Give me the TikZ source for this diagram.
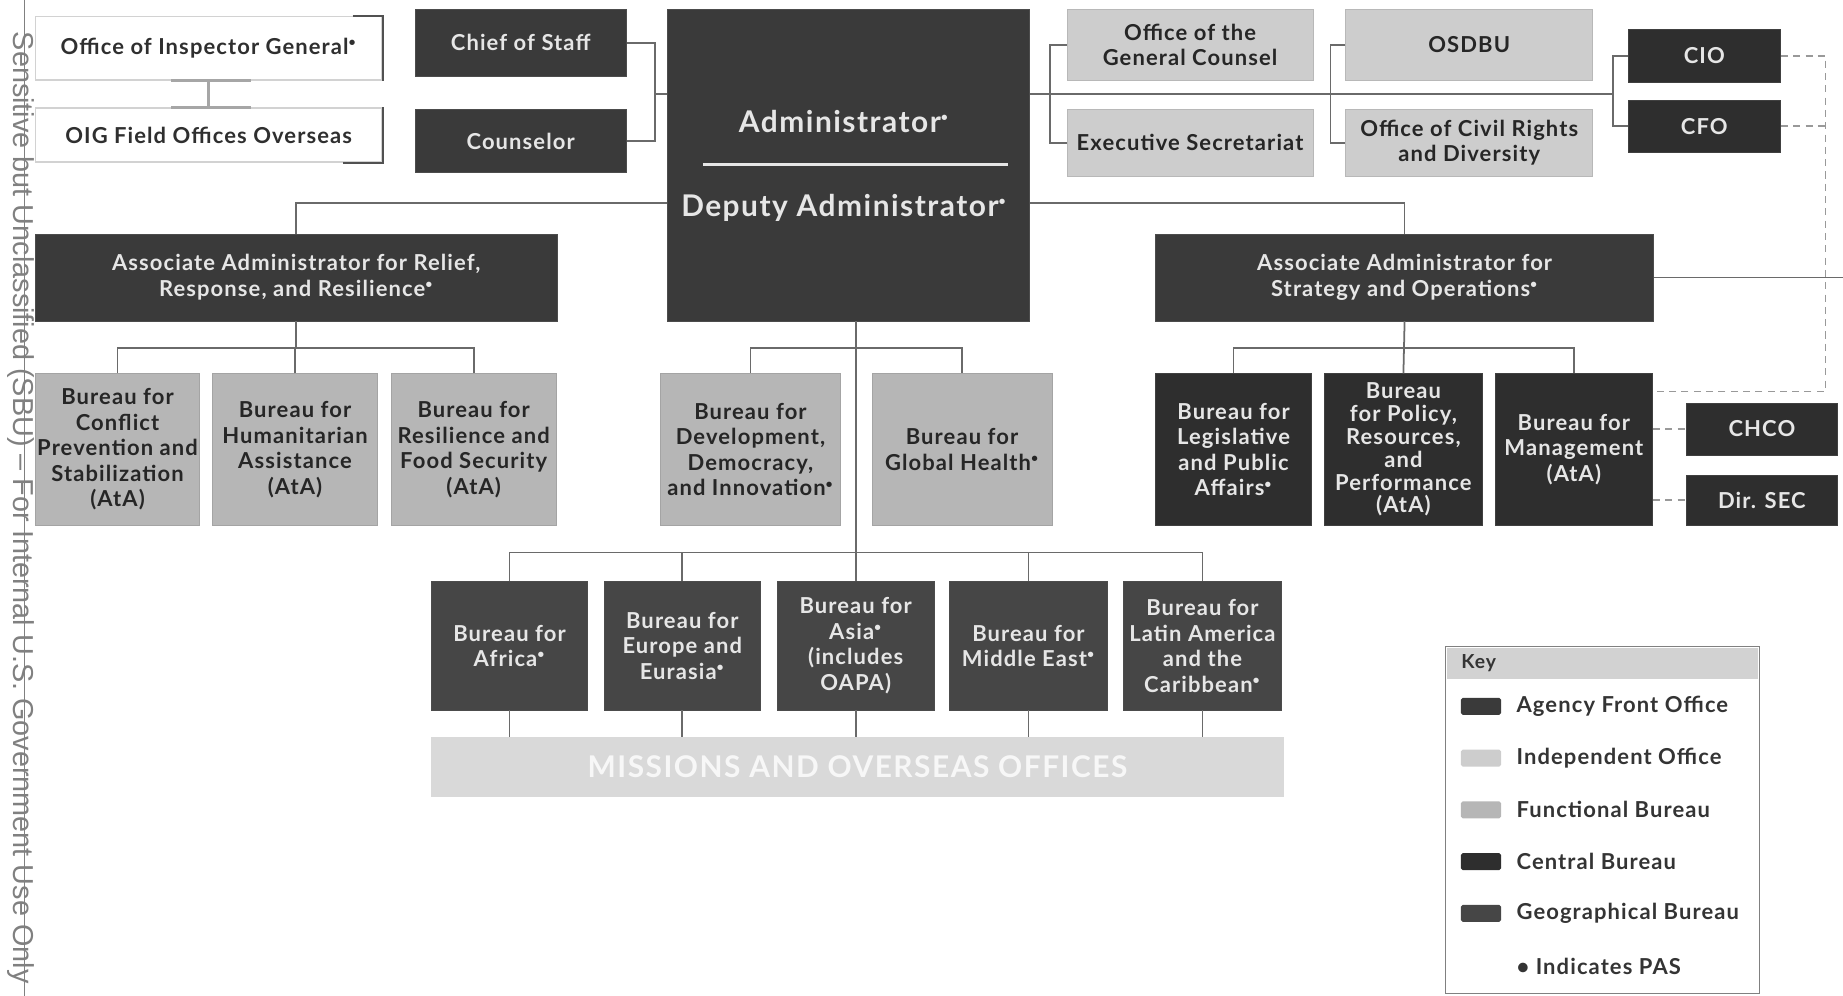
\documentclass[tikz,border=0pt]{standalone}
\usepackage{fontspec}
\setmainfont{Lato}[LetterSpace=5]
\setsansfont{Liberation Sans}

\definecolor{fronte}{HTML}{3A3A3A}
\definecolor{indip}{HTML}{CDCDCD}
\definecolor{funz}{HTML}{B6B6B6}
\definecolor{centro}{HTML}{2E2E2E}
\definecolor{geog}{HTML}{464646}
\definecolor{linea}{HTML}{6A6A6A}
\definecolor{chiaro}{HTML}{E6E6E6}
\definecolor{scuro}{HTML}{262626}

\newcommand{\pas}{\textsuperscript{\scriptsize•}}
\newcommand{\unita}{0.0235cm}
% casella da due angoli: nome, stile, x1, y1, x2, y2, testo
\newcommand{\casella}[7]{\node [#2, minimum width={(#5-#3)*\unita}, minimum height={(#6-#4)*\unita}] (#1) at ({(#3+#5)/2},{(#4+#6)/2}) {#7};}

\tikzset{
  ufficio/.style={inner sep=0pt, align=center, font=\bfseries\fontsize{12.5}{14.5}\selectfont},
  front/.style={ufficio, fill=fronte, draw=gray!60!black, text=chiaro},
  indipendente/.style={ufficio, fill=indip, draw=indip!90!black, text=scuro},
  funzionale/.style={ufficio, fill=funz, draw=funz!90!black, text=scuro},
  centrale/.style={ufficio, fill=centro, draw=gray!50!black, text=chiaro},
  geografico/.style={ufficio, fill=geog, draw=gray!60!black, text=chiaro},
  bianco/.style={ufficio, fill=white, draw=gray!35, line width=.8pt, text=scuro!90!gray},
  link/.style={draw=linea, line width=1pt},
  tratt/.style={draw=gray!80, line width=1pt, dashed, dash pattern=on 4pt off 3pt},
  campione/.style={minimum width=0.8cm, minimum height=0.34cm, inner sep=0pt, rounded corners=1pt},
  voce/.style={anchor=west, inner sep=0pt, font=\bfseries\fontsize{12.5}{14}\selectfont, text=scuro!85!gray}
}

\begin{document}
\begin{tikzpicture}[x=0.0235cm, y=-0.0235cm]
    \useasboundingbox (0,0) rectangle (1568,847);
    % Nota
    \draw [gray, line width=.6pt] (21,0) -- (21,847);
    \node [rotate=-90, text=gray, font=\sffamily\fontsize{16.4}{17}\selectfont] (nota) at (18,432) {Sensitive but Unclassified (SBU) -- For Internal U.S. Government Use Only};
    % Vertice
    \casella{oig}{bianco}{30}{14}{325}{68}{Office of Inspector General\pas}
    \casella{ofo}{bianco}{30}{92}{325}{138}{OIG Field Offices Overseas}
    \draw [scuro!80, line width=1pt] ([xshift=-0.6cm]oig.north east) -- (oig.north east) -- (oig.south east);
    \draw [scuro!80, line width=1pt] (ofo.north east) -- (ofo.south east) -- ([xshift=-0.8cm]ofo.south east);
    \casella{cos}{front}{353}{8}{533}{65}{Chief of Staff}
    \casella{cou}{front}{353}{93}{533}{147}{Counselor}
    \casella{adm}{front}{568}{8}{876}{273}{}
    \node [text=chiaro, font=\bfseries\fontsize{17}{20}\selectfont] (amm) at (718,103) {Administrator\pas};
    \node [text=chiaro, font=\bfseries\fontsize{17}{20}\selectfont] (vice) at (718,177) {Deputy Administrator\pas};
    \draw [chiaro, line width=1.5pt] (598,140) -- (858,140);
    \casella{gc}{indipendente}{908}{8}{1117}{68}{Office of the\\General Counsel}
    \casella{es}{indipendente}{908}{93}{1117}{150}{Executive Secretariat}
    \casella{osd}{indipendente}{1145}{8}{1355}{68}{OSDBU}
    \casella{ocr}{indipendente}{1145}{93}{1355}{150}{Office of Civil Rights\\and Diversity}
    \casella{cio}{centrale}{1385}{25}{1515}{70}{CIO}
    \casella{cfo}{centrale}{1385}{85}{1515}{130}{CFO}
    % Associati
    \casella{rrr}{front}{30}{199}{474}{273}{Associate Administrator for Relief,\\Response, and Resilience\pas}
    \casella{aso}{front}{983}{199}{1407}{273}{Associate Administrator for\\Strategy and Operations\pas}
    % Uffici
    \casella{cps}{funzionale}{30}{318}{170}{447}{Bureau for\\Conflict\\Prevention and\\Stabilization\\(AtA)}
    \casella{ha}{funzionale}{181}{318}{321}{447}{Bureau for\\Humanitarian\\Assistance\\(AtA)}
    \casella{rfs}{funzionale}{333}{318}{473}{447}{Bureau for\\Resilience and\\Food Security\\(AtA)}
    \casella{ddi}{funzionale}{562}{318}{715}{447}{Bureau for\\Development,\\Democracy,\\and Innovation\pas}
    \casella{gh}{funzionale}{742}{318}{895}{447}{Bureau for\\Global Health\pas}
    \casella{lpa}{centrale}{983}{318}{1116}{447}{Bureau for\\Legislative\\and Public\\Affairs\pas}
    \casella{ppr}{centrale, font=\bfseries\fontsize{12.5}{13}\selectfont}{1127}{318}{1261}{447}{Bureau\\for Policy,\\Resources,\\and\\Performance\\(AtA)}
    \casella{mgt}{centrale}{1272}{318}{1406}{447}{Bureau for\\Management\\(AtA)}
    \casella{chco}{centrale}{1435}{343}{1563}{387}{CHCO}
    \casella{dsec}{centrale}{1435}{404}{1563}{447}{Dir. SEC}
    % Regioni
    \casella{afr}{geografico}{367}{495}{500}{604}{Bureau for\\Africa\pas}
    \casella{eur}{geografico}{514}{495}{647}{604}{Bureau for\\Europe and\\Eurasia\pas}
    \casella{asia}{geografico}{661}{495}{795}{604}{Bureau for\\Asia\pas\\(includes\\OAPA)}
    \casella{me}{geografico}{808}{495}{942}{604}{Bureau for\\Middle East\pas}
    \casella{lac}{geografico}{956}{495}{1090}{604}{Bureau for\\Latin America\\and the\\Caribbean\pas}
    \casella{mis}{ufficio, fill=gray!30, text=gray!6, font=\bfseries\fontsize{17}{19}\selectfont}{367}{627}{1092}{678}{MISSIONS AND OVERSEAS OFFICES}
    % Collegamenti
    \coordinate (ns) at (557,80);
    \coordinate (nd1) at (893,80);
    \coordinate (nd2) at (1132,80);
    \coordinate (nd3) at (1372,80);
    \coordinate (sec) at (722,173);
    \coordinate (bus) at (0,296);
    \coordinate (gbus) at (0,470);
    \coordinate (tr) at (1553,333);
    \coordinate (bordo) at (1568,237);
    \draw [gray!70, line width=2pt] (oig.south) -- (ofo.north);
    \draw [gray!70, line width=2pt] ([xshift=-0.75cm]oig.south) -- ([xshift=0.85cm]oig.south);
    \draw [gray!70, line width=2pt] ([xshift=-0.75cm]ofo.north) -- ([xshift=0.85cm]ofo.north);
    \draw [link] (cos.east) -| (ns) |- (cou.east);
    \draw [link] (ns) -- (adm.west |- ns);
    \draw [link] (adm.east |- ns) -- (nd3);
    \draw [link] (gc.west) -| (nd1) |- (es.west);
    \draw [link] (osd.west) -| (nd2) |- (ocr.west);
    \draw [link] (cio.west) -| (nd3) |- (cfo.west);
    \draw [link] (adm.west |- sec) -| (rrr.north);
    \draw [link] (adm.east |- sec) -| (aso.north);
    \draw [link] (rrr.south) -- (rrr.south |- bus);
    \draw [link] (cps.north) |- (rrr.south |- bus) -| (rfs.north);
    \draw [link] (ha.north) -- (ha.north |- bus);
    \draw [link] (adm.south -| asia.north) -- (asia.north);
    \draw [link] (ddi.north) |- (asia.north |- bus) -| (gh.north);
    \draw [link] (aso.south) -- (ppr.north);
    \draw [link] (lpa.north) |- (aso.south |- bus) -| (mgt.north);
    \draw [link] (afr.north) |- (asia.north |- gbus) -| (lac.north);
    \draw [link] (eur.north) -- (eur.north |- gbus);
    \draw [link] (me.north) -- (me.north |- gbus);
    \foreach \g in {afr,eur,asia,me,lac}
        \draw [link] (\g.south) -- (\g.south |- mis.north);
    \draw [link] (aso.east) -- (aso.east -| bordo);
    \draw [tratt] (cio.east) -| (tr) -- (mgt.east |- tr);
    \draw [tratt] (cfo.east) -- (cfo.east -| tr);
    \draw [tratt] (mgt.east |- chco) -- (chco.west);
    \draw [tratt] (mgt.east |- dsec) -- (dsec.west);
    % Legenda
    \casella{key}{draw=gray, line width=.8pt, inner sep=0pt}{1230}{550}{1497}{845}{}
    \casella{keyhead}{fill=gray!35, inner sep=0pt}{1231}{551}{1496}{578}{}
    \node [voce, font=\bfseries\fontsize{11}{12}\selectfont] (keytxt) at (1243,564) {Key};
    \foreach \y/\c/\t [count=\i] in {601/fronte/Agency Front Office, 645/indip/Independent Office, 689/funz/Functional Bureau, 733/centro/Central Bureau, 777/geog/Geographical Bureau} {
        \node [campione, fill=\c] (c\i) at (1260,\y) {};
        \node [voce] (v\i) at (1290,\y) {\t};
    }
    \node [voce] (v6) at (1290,822) {• Indicates PAS};
\end{tikzpicture}
\end{document}
